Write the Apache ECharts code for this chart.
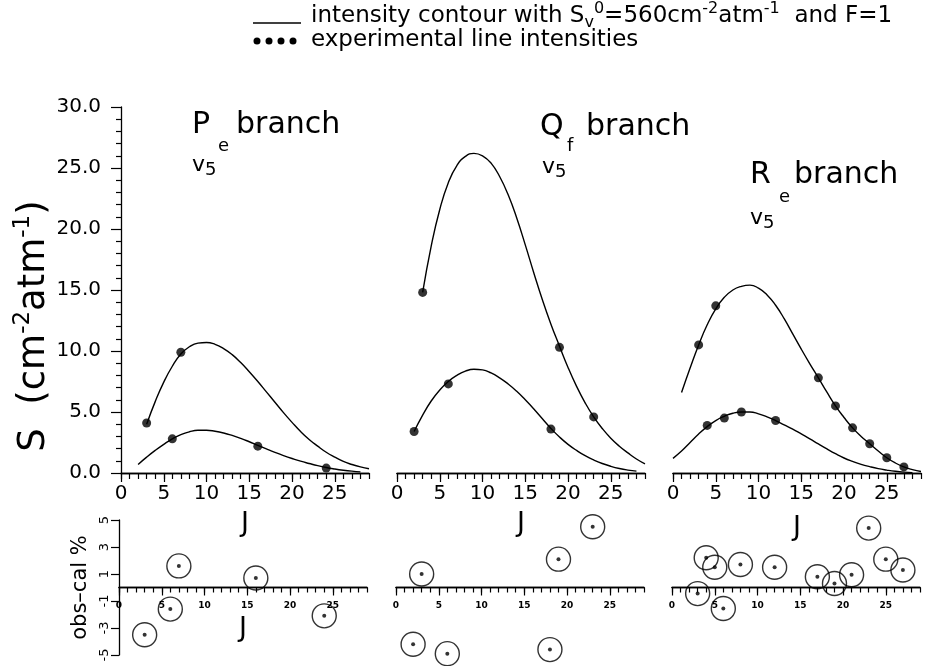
<!DOCTYPE html>
<html>
<head>
<meta charset="utf-8">
<script src="https://cdn.jsdelivr.net/npm/echarts@6/dist/echarts.min.js"></script>
<style>
  html, body { margin: 0; padding: 0; background: #fff; }
  #chart { width: 926px; height: 666px; }
</style>
</head>
<body>
<div id="chart"></div>
<script>
// ---- data ----
// P_e branch : contour curves (start J + one value per J), measured points, residuals
const pUpperStart = 3;
const pUpper = [4.0, 5.85, 7.45, 8.75, 9.75, 10.35, 10.65, 10.7, 10.55, 10.2, 9.7, 9.05, 8.3, 7.5, 6.65, 5.8, 4.95, 4.15, 3.4, 2.75, 2.2, 1.7, 1.3, 0.95, 0.7, 0.5, 0.35];
const pLowerStart = 2;
const pLower = [0.7, 1.3, 1.85, 2.35, 2.8, 3.15, 3.38, 3.5, 3.5, 3.42, 3.28, 3.08, 2.84, 2.56, 2.26, 1.97, 1.69, 1.43, 1.19, 0.97, 0.78, 0.6, 0.45, 0.33, 0.23, 0.15, 0.09];
const pObsJ = [3, 7, 6, 16, 24];
const pObsS = [4.1, 9.9, 2.8, 2.2, 0.4];
const pResJ = [3, 6, 7, 16, 24];
const pRes = [-3.5, -1.6, 1.6, 0.7, -2.1];

// Q_f branch
const qUpperStart = 3;
const qUpper = [14.8, 18.6, 21.6, 23.8, 25.2, 25.95, 26.2, 26.0, 25.4, 24.3, 22.8, 20.9, 18.7, 16.4, 14.2, 12.2, 10.4, 8.65, 7.1, 5.75, 4.6, 3.65, 2.85, 2.2, 1.65, 1.15, 0.75];
const qLowerStart = 2;
const qLower = [3.4, 4.75, 5.9, 6.8, 7.5, 8.0, 8.35, 8.5, 8.45, 8.2, 7.8, 7.3, 6.7, 6.0, 5.25, 4.45, 3.65, 2.95, 2.35, 1.85, 1.42, 1.07, 0.78, 0.55, 0.37, 0.24, 0.15];
const qObsJ = [2, 3, 6, 18, 19, 23];
const qObsS = [3.4, 14.8, 7.3, 3.6, 10.3, 4.6];
const qResJ = [2, 3, 6, 18, 19, 23];
const qRes = [-4.2, 1.0, -4.9, -4.6, 2.1, 4.5];

// R_e branch
const rUpperStart = 1;
const rUpper = [6.6, 8.6, 10.5, 12.15, 13.45, 14.4, 15.0, 15.3, 15.4, 15.15, 14.6, 13.75, 12.65, 11.4, 10.15, 8.95, 7.8, 6.62, 5.5, 4.55, 3.7, 3.0, 2.4, 1.8, 1.25, 0.82, 0.5, 0.28, 0.12];
const rLowerStart = 0;
const rLower = [1.2, 1.8, 2.5, 3.2, 3.8, 4.3, 4.65, 4.9, 5.0, 5.0, 4.85, 4.6, 4.3, 3.95, 3.6, 3.2, 2.8, 2.38, 1.97, 1.58, 1.23, 0.95, 0.71, 0.52, 0.36, 0.24, 0.14, 0.07, 0.03];
const rObsJ = [3, 5, 17, 19, 21, 23, 25, 27, 4, 6, 8, 12];
const rObsS = [10.5, 13.7, 7.8, 5.5, 3.7, 2.4, 1.25, 0.5, 3.9, 4.5, 5.0, 4.3];
const rResJ = [3, 4, 5, 6, 8, 12, 17, 19, 21, 23, 25, 27];
const rRes = [-0.45, 2.2, 1.5, -1.55, 1.7, 1.5, 0.8, 0.3, 0.95, 4.4, 2.1, 1.3];

const jTicks = [0, 5, 10, 15, 20, 25];

const FONT = 'DejaVu Sans';
const BLACK = '#000';

function curve(start, vals) {
  return vals.map(function (v, i) { return [start + i, v]; });
}
function pairs(js, vs) {
  return js.map(function (j, i) { return [j, vs[i]]; });
}

const chart = echarts.init(document.getElementById('chart'), null, { renderer: 'canvas' });

const mainLeft = [121, 397, 673];
const resLeft = [119, 396, 672];
const RES_H = 135;
const grids = [];
mainLeft.forEach(function (l) {
  grids.push({ left: l, top: 107, width: 248, height: 366, outerBoundsMode: 'none' });
});
resLeft.forEach(function (l) {
  grids.push({ left: l, top: 520, width: 248, height: RES_H, outerBoundsMode: 'none' });
});

// two x axes per grid: one carries the 1-unit minor ticks, one the 5-unit ticks and labels
// residual x axes are lifted from the grid bottom to the zero line
const xAxes = [];
grids.forEach(function (g, gi) {
  const isRes = gi >= 3;
  const off = isRes ? -RES_H / 2 : 0;
  xAxes.push({
    type: 'value', gridIndex: gi, min: 0, max: 29, interval: 1, position: 'bottom', offset: off,
    axisLine: { show: true, onZero: false, lineStyle: { color: BLACK, width: 1.3 } },
    axisTick: { show: true, length: isRes ? 5 : 6, lineStyle: { color: BLACK, width: 1.2 } },
    axisLabel: { show: false },
    splitLine: { show: false }
  });
  let name = '';
  let nameGap = 37;
  if (gi < 3) { name = 'J'; nameGap = gi === 2 ? 41 : 37; }
  if (gi === 3) { name = 'J'; nameGap = 28; }
  xAxes.push({
    type: 'value', gridIndex: gi, min: 0, max: 29, interval: 5, position: 'bottom', offset: off,
    name: name, nameLocation: 'middle', nameGap: nameGap,
    nameTextStyle: { fontFamily: FONT, fontSize: 27, color: BLACK },
    axisLine: { show: true, onZero: false, lineStyle: { color: BLACK, width: 1.3 } },
    axisTick: { show: true, length: isRes ? 8 : 9, customValues: jTicks, lineStyle: { color: BLACK, width: 1.2 } },
    axisLabel: isRes
      ? { show: true, customValues: jTicks, fontFamily: FONT, fontSize: 9, fontWeight: 'bold', color: BLACK, margin: 14 }
      : { show: true, customValues: jTicks, fontFamily: FONT, fontSize: 20, color: BLACK, margin: 11 },
    splitLine: { show: false }
  });
});

const yAxes = [];
[0, 1, 2].forEach(function (gi) {
  yAxes.push({
    type: 'value', gridIndex: gi, min: 0, max: 30, interval: 5, show: gi === 0,
    axisLine: { show: true, onZero: false, lineStyle: { color: BLACK, width: 1.3 } },
    axisTick: { show: true, length: 10, lineStyle: { color: BLACK, width: 1.2 } },
    minorTick: { show: true, splitNumber: 5, length: 5, lineStyle: { color: BLACK, width: 1.2 } },
    axisLabel: {
      fontFamily: FONT, fontSize: 20, color: BLACK, margin: 20,
      formatter: function (v) { return v.toFixed(1); }
    },
    splitLine: { show: false }
  });
});
[3, 4, 5].forEach(function (gi) {
  yAxes.push({
    type: 'value', gridIndex: gi, min: -5, max: 5, interval: 2, show: gi === 3,
    name: 'obs–cal %', nameLocation: 'middle', nameGap: 28,
    nameTextStyle: { fontFamily: FONT, fontSize: 21, color: BLACK },
    axisLine: { show: true, onZero: false, lineStyle: { color: BLACK, width: 1.3 } },
    axisTick: { show: true, length: 8, lineStyle: { color: BLACK, width: 1.2 } },
    axisLabel: { fontFamily: FONT, fontSize: 13, color: BLACK, margin: 8, rotate: 90 },
    splitLine: { show: false }
  });
});

const lineStyle = { color: BLACK, width: 1.4 };
function lineSeries(gi, data) {
  return {
    type: 'line', xAxisIndex: gi * 2, yAxisIndex: gi, data: data,
    smooth: true, showSymbol: false, symbol: 'none',
    lineStyle: lineStyle, z: 2, silent: true
  };
}
function dotSeries(gi, data) {
  return {
    type: 'scatter', xAxisIndex: gi * 2, yAxisIndex: gi, data: data,
    symbol: 'circle', symbolSize: 9, itemStyle: { color: BLACK }, z: 3, silent: true
  };
}
function resSeries(gi, data) {
  return [
    {
      type: 'scatter', xAxisIndex: gi * 2, yAxisIndex: gi, data: data,
      symbol: 'circle', symbolSize: 24,
      itemStyle: { color: 'rgba(255,255,255,0)', borderColor: BLACK, borderWidth: 1.4 }, z: 3, silent: true
    },
    {
      type: 'scatter', xAxisIndex: gi * 2, yAxisIndex: gi, data: data,
      symbol: 'circle', symbolSize: 4, itemStyle: { color: BLACK }, z: 4, silent: true
    }
  ];
}

const series = [
  lineSeries(0, curve(pUpperStart, pUpper)),
  lineSeries(0, curve(pLowerStart, pLower)),
  dotSeries(0, pairs(pObsJ, pObsS)),
  lineSeries(1, curve(qUpperStart, qUpper)),
  lineSeries(1, curve(qLowerStart, qLower)),
  dotSeries(1, pairs(qObsJ, qObsS)),
  lineSeries(2, curve(rUpperStart, rUpper)),
  lineSeries(2, curve(rLowerStart, rLower)),
  dotSeries(2, pairs(rObsJ, rObsS))
].concat(
  resSeries(3, pairs(pResJ, pRes)),
  resSeries(4, pairs(qResJ, qRes)),
  resSeries(5, pairs(rResJ, rRes))
);

function txt(x, y, s, size) {
  return {
    type: 'text', x: x, y: y, silent: true,
    style: { text: s, fontFamily: FONT, fontSize: size, fill: BLACK, align: 'left', verticalAlign: 'middle' }
  };
}

const supStyle = { fontFamily: FONT, fontSize: 16, lineHeight: 15, verticalAlign: 'top', fill: BLACK };
const subStyle = { fontFamily: FONT, fontSize: 16, lineHeight: 15, verticalAlign: 'bottom', fill: BLACK };

const graphic = [
  // legend
  { type: 'line', silent: true, shape: { x1: 253, y1: 23, x2: 301, y2: 23 }, style: { stroke: BLACK, lineWidth: 1.5 } },
  { type: 'circle', silent: true, shape: { cx: 257, cy: 41, r: 3.5 }, style: { fill: BLACK } },
  { type: 'circle', silent: true, shape: { cx: 269, cy: 41, r: 3.5 }, style: { fill: BLACK } },
  { type: 'circle', silent: true, shape: { cx: 281, cy: 41, r: 3.5 }, style: { fill: BLACK } },
  { type: 'circle', silent: true, shape: { cx: 293, cy: 41, r: 3.5 }, style: { fill: BLACK } },
  {
    type: 'text', x: 311, y: 16, silent: true,
    style: {
      text: '{t|intensity contour with S}{sb|v}{sp|0}{t|=560cm}{sp|-2}{t|atm}{sp|-1}{t|  and F=1}',
      align: 'left', verticalAlign: 'middle',
      rich: {
        t: { fontFamily: FONT, fontSize: 23, lineHeight: 30, verticalAlign: 'middle', fill: BLACK },
        sp: supStyle, sb: subStyle
      }
    }
  },
  txt(311, 40, 'experimental line intensities', 23),

  // panel titles
  txt(192, 125, 'P', 30), txt(218, 146, 'e', 18), txt(236, 125, 'branch', 30),
  txt(192, 165, 'v', 22), txt(205, 170, '5', 18),
  txt(540, 127, 'Q', 30), txt(567, 146, 'f', 18), txt(586, 127, 'branch', 30),
  txt(542, 167, 'v', 22), txt(555, 172, '5', 18),
  txt(750, 175, 'R', 30), txt(779, 197, 'e', 18), txt(794, 175, 'branch', 30),
  txt(750, 218, 'v', 22), txt(763, 223, '5', 18),

  // y axis title of the intensity panels
  {
    type: 'text', x: 34, y: 326, rotation: Math.PI / 2, silent: true,
    style: {
      text: '{a|S  (cm}{s|-2}{a|atm}{s|-1}{a|)}',
      align: 'center', verticalAlign: 'middle',
      rich: {
        a: { fontFamily: FONT, fontSize: 37, lineHeight: 44, verticalAlign: 'middle', fill: BLACK },
        s: { fontFamily: FONT, fontSize: 23, lineHeight: 23, verticalAlign: 'top', fill: BLACK }
      }
    }
  }
];

chart.setOption({
  animation: false,
  backgroundColor: '#fff',
  grid: grids,
  xAxis: xAxes,
  yAxis: yAxes,
  series: series,
  graphic: graphic
});
</script>
</body>
</html>
